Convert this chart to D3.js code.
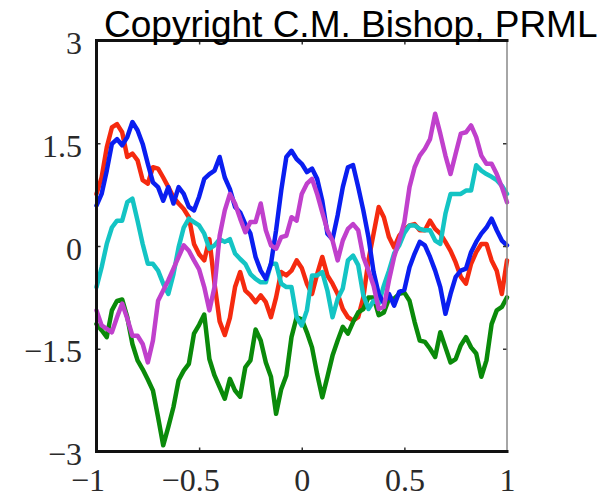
<!DOCTYPE html>
<html>
<head>
<meta charset="utf-8">
<script src="https://cdn.jsdelivr.net/npm/d3@7"></script>
<style>
html,body{margin:0;padding:0;background:#fff;}
svg{display:block;}
</style>
</head>
<body>
<svg id="chart" width="614" height="501"></svg>
<script>
// ---- data ----
const xs = [-1,-0.975,-0.95,-0.925,-0.9,-0.875,-0.85,-0.825,-0.8,-0.775,
  -0.75,-0.725,-0.7,-0.675,-0.65,-0.625,-0.6,-0.575,-0.55,-0.525,
  -0.5,-0.475,-0.45,-0.425,-0.4,-0.375,-0.35,-0.325,-0.3,-0.275,
  -0.25,-0.225,-0.2,-0.175,-0.15,-0.125,-0.1,-0.075,-0.05,-0.025,
  0,0.025,0.05,0.075,0.1,0.125,0.15,0.175,0.2,0.225,
  0.25,0.275,0.3,0.325,0.35,0.375,0.4,0.425,0.45,0.475,
  0.5,0.525,0.55,0.575,0.6,0.625,0.65,0.675,0.7,0.725,
  0.75,0.775,0.8,0.825,0.85,0.875,0.9,0.925,0.95,0.975,1];

const blueY = [0.59,0.76,1.10,1.49,1.56,1.47,1.59,1.81,1.69,1.49,
  1.20,0.93,0.86,0.66,0.86,0.62,0.86,0.76,0.57,0.52,
  0.72,0.98,1.05,1.10,1.30,1.00,0.83,0.57,0.49,0.32,
  0.18,-0.16,-0.36,-0.48,-0.26,0.23,0.81,1.30,1.39,1.27,
  1.20,1.08,1.13,0.98,0.66,0.18,0.10,0.45,0.86,1.15,
  1.18,0.86,0.52,0.13,-0.38,-0.70,-0.84,-0.70,-0.87,-0.67,
  -0.64,-0.31,-0.11,0.06,0.01,-0.16,-0.36,-0.60,-0.99,-0.70,
  -0.45,-0.36,-0.33,-0.09,0.06,0.18,0.27,0.40,0.23,0.08,
  0.01];

const redY = [0.76,1.00,1.44,1.73,1.78,1.66,1.30,1.35,1.25,0.96,
  0.91,1.15,1.13,1.00,0.86,0.71,0.62,0.54,0.42,0.03,
  -0.12,-0.21,0.10,-0.55,-1.10,-1.30,-1.05,-0.60,-0.38,-0.65,
  -0.72,-0.82,-0.72,-0.82,-1.04,-0.75,-0.38,-0.43,-0.36,-0.21,
  -0.32,-0.55,-0.70,-0.41,-0.16,-0.43,-0.55,-0.70,-0.92,-1.04,
  -1.09,-1.04,-0.75,-0.21,0.18,0.57,0.42,0.13,-0.02,0.15,
  0.24,0.30,0.32,0.23,0.23,0.37,0.25,0.18,0.06,-0.07,
  -0.24,-0.45,-0.55,-0.26,-0.09,0.03,0.03,-0.21,-0.36,-0.70,
  -0.21];

const cyanY = [-0.60,-0.31,0.03,0.27,0.37,0.37,0.64,0.69,0.37,0.03,
  -0.26,-0.26,-0.36,-0.55,-0.70,-0.41,-0.02,0.27,0.40,0.35,
  0.30,0.18,-0.04,0.01,0.10,0.06,0.10,-0.11,-0.19,-0.26,
  -0.41,-0.48,-0.53,-0.53,-0.26,-0.26,-0.55,-0.60,-0.60,-1.04,
  -1.16,-0.94,-0.43,-0.43,-0.38,-0.65,-1.04,-0.77,-0.62,-0.21,
  -0.14,-0.28,-0.72,-0.92,-0.80,-0.84,-0.58,-0.36,-0.11,0.01,
  0.19,0.30,0.30,0.25,0.23,0.23,0.08,0.03,0.47,0.76,
  0.76,0.76,0.81,0.81,1.18,1.10,1.05,1.01,0.96,0.88,
  0.76];

const magentaY = [-0.94,-1.16,-1.21,-1.26,-1.04,-0.84,-1.06,-1.31,-1.31,-1.43,
  -1.70,-1.38,-0.80,-0.65,-0.50,-0.33,-0.16,0.01,-0.07,-0.21,
  -0.34,-0.60,-0.94,-0.60,0.15,0.52,0.76,0.62,0.40,0.20,
  0.35,0.35,0.62,0.23,0.01,-0.04,0.13,0.15,0.42,0.37,
  0.76,0.91,0.98,0.76,0.49,0.23,0.08,-0.21,0.08,0.25,
  0.32,0.23,-0.16,-0.36,-0.58,-0.92,-0.89,-0.50,-0.16,0.08,
  0.35,0.86,1.15,1.32,1.42,1.56,1.93,1.64,1.32,1.05,
  1.35,1.64,1.66,1.76,1.59,1.32,1.20,1.20,1.05,0.86,
  0.64];

const greenY = [-1.14,-1.23,-1.33,-0.94,-0.80,-0.78,-1.04,-1.43,-1.67,-1.80,
  -1.95,-2.11,-2.50,-2.91,-2.64,-2.35,-1.96,-1.82,-1.72,-1.28,
  -1.15,-1.00,-1.65,-1.89,-2.06,-2.23,-1.94,-2.11,-2.20,-1.77,
  -1.67,-1.22,-1.38,-1.70,-1.91,-2.45,-2.09,-1.89,-1.33,-1.04,
  -1.07,-1.26,-1.48,-1.87,-2.21,-1.91,-1.60,-1.38,-1.18,-1.28,
  -1.11,-0.97,-0.92,-0.75,-0.75,-1.01,-0.97,-0.77,-0.77,-0.70,
  -0.68,-0.80,-1.11,-1.38,-1.40,-1.50,-1.62,-1.26,-1.48,-1.70,
  -1.65,-1.45,-1.33,-1.48,-1.57,-1.91,-1.67,-1.14,-0.94,-0.89,
  -0.75];

const seriesNames = ["red","green","cyan","blue","magenta"];
const seriesValues = [redY, greenY, cyanY, blueY, magentaY];
const seriesColors = ["#f52a0f","#0a8a0a","#14c4c4","#0a1ef0","#c040cc"];

const xTicks = [-1,-0.5,0,0.5,1];
const yTicks = [-3,-1.5,0,1.5,3];
const titleText = "Copyright C.M. Bishop, PRML";

// ---- drawing ----
const svg = d3.select("#chart");
const x = d3.scaleLinear().domain([-1,1]).range([96.5,507]);
const y = d3.scaleLinear().domain([-3,3]).range([451.5,40.5]);

const fmt = d => (d < 0 ? "\u2212" : "") + Math.abs(d);
const tickFont = "'Liberation Serif','Times New Roman',serif";

// lines
const line = d3.line().x((d,i)=>x(xs[i])).y(d=>y(d));
svg.append("g").selectAll("path")
  .data(seriesValues)
  .join("path")
  .attr("d", line)
  .attr("fill","none")
  .attr("stroke",(d,i)=>seriesColors[i])
  .attr("stroke-width",4.5)
  .attr("stroke-linejoin","round")
  .attr("stroke-linecap","round");

// inner ticks (all four sides)
function styleAxis(g, showLabels){
  g.select(".domain").remove();
  g.selectAll(".tick line").attr("stroke","#333").attr("stroke-width",1.5);
  if(!showLabels) g.selectAll(".tick text").remove();
  else g.selectAll(".tick text")
        .attr("fill","#2a2a2a")
        .style("font-family",tickFont)
        .style("font-size","32px");
}
const inner = v => v !== -1 && v !== 1 && v !== -3 && v !== 3;

svg.append("g").attr("transform",`translate(0,${y(-3)})`)
  .call(d3.axisBottom(x).tickValues(xTicks).tickFormat(fmt).tickSize(-4).tickPadding(17))
  .call(g=>styleAxis(g,true))
  .call(g=>{
    g.selectAll(".tick line").filter(d=>!inner(d)).remove();
    g.selectAll(".tick text").attr("dy","0.71em").attr("dx",d=>d<0?"-0.282em":"0");
  });

svg.append("g").attr("transform",`translate(0,${y(3)})`)
  .call(d3.axisTop(x).tickValues(xTicks.filter(inner)).tickSize(-4))
  .call(g=>styleAxis(g,false));

svg.append("g").attr("transform",`translate(${x(-1)},0)`)
  .call(d3.axisLeft(y).tickValues(yTicks).tickFormat(fmt).tickSize(-4).tickPadding(14.5))
  .call(g=>styleAxis(g,true))
  .call(g=>{
    g.selectAll(".tick line").filter(d=>!inner(d)).remove();
    g.selectAll(".tick text").attr("dy","0.41em");
  });

svg.append("g").attr("transform",`translate(${x(1)},0)`)
  .call(d3.axisRight(y).tickValues(yTicks.filter(inner)).tickSize(-4))
  .call(g=>styleAxis(g,false));

// frame
const fr = svg.append("g").attr("fill","none");
fr.append("line").attr("x1",x(1)).attr("x2",x(1)).attr("y1",y(3)).attr("y2",y(-3))
  .attr("stroke","#888").attr("stroke-width",1.5);
fr.append("path")
  .attr("d",`M${x(1)},${y(3)}H${x(-1)}V${y(-3)}H${x(1)}`)
  .attr("stroke","#111").attr("stroke-width",3).attr("stroke-linecap","square");

// title
svg.append("text")
  .attr("x",104).attr("y",37)
  .attr("fill","#000")
  .style("font-family","'Liberation Sans',Arial,Helvetica,sans-serif")
  .style("font-size","37px")
  .text(titleText);
</script>
</body>
</html>
